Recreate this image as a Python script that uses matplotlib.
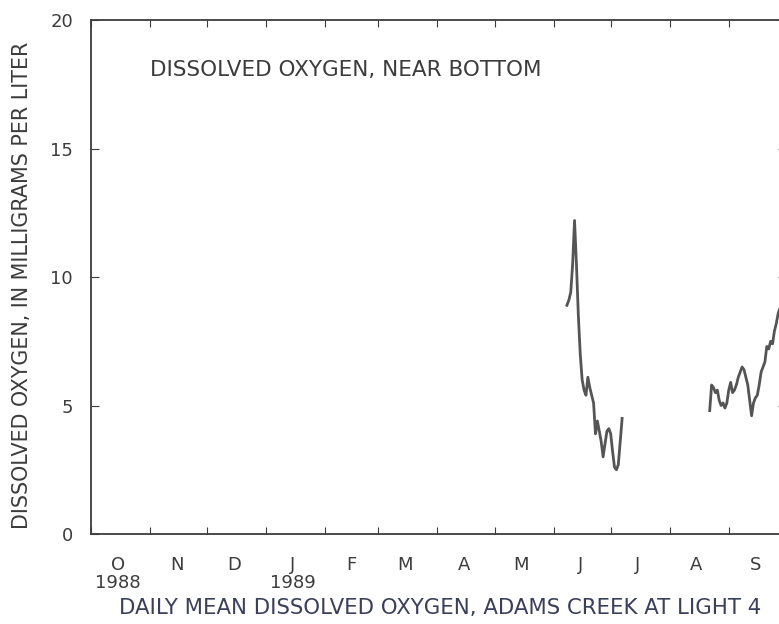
import numpy as np
import pandas as pd
import matplotlib
matplotlib.use("Agg")
import matplotlib.pyplot as plt

plt.rcParams['font.family'] = ['DejaVu Sans']

# Daily mean dissolved oxygen near bottom (mg/L), two periods of record
seg1_start = "1989-06-08"
seg1_values = [8.9, 9.1, 9.4, 10.5, 12.2, 10.5, 8.5, 7.0, 6.0, 5.6,
               5.4, 6.1, 5.7, 5.4, 5.1, 3.9, 4.4, 4.0, 3.6, 3.0,
               3.5, 4.0, 4.1, 3.9, 3.2, 2.6, 2.5, 2.7, 3.6, 4.5]

seg2_start = "1989-08-22"
seg2_values = [4.8, 5.8, 5.7, 5.5, 5.6, 5.2, 5.0, 5.1, 4.9, 5.1,
               5.6, 5.9, 5.5, 5.6, 5.8, 6.1, 6.3, 6.5, 6.4, 6.1,
               5.8, 5.2, 4.6, 5.1, 5.3, 5.4, 5.8, 6.3, 6.5, 6.7,
               7.3, 7.2, 7.5, 7.4, 7.9, 8.2, 8.6, 8.8, 9.1, 9.3]

month_labels = ["O\n1988", "N", "D", "J\n1989", "F", "M", "A", "M", "J", "J", "A", "S"]
y_ticks = [0, 5, 10, 15, 20]

ink = "#3c3c3c"

fig = plt.figure(figsize=(7.79, 6.24), dpi=100)
ax = fig.add_axes([0.1168, 0.1442, 0.892, 0.8237])

for start, vals in [(seg1_start, seg1_values), (seg2_start, seg2_values)]:
    dates = pd.date_range(start, periods=len(vals), freq="D")
    ax.plot(dates, vals, color="#555555", linewidth=2.0)

ax.set_xlim(pd.Timestamp("1988-10-01"), pd.Timestamp("1989-10-01"))
ax.set_ylim(0, 20)

# month boundaries as ticks, labels centred mid-month
month_starts = pd.date_range("1988-10-01", "1989-10-01", freq="MS")
mid_months = [m + pd.Timedelta(days=14) for m in month_starts[:-1]]
ax.set_xticks(month_starts)
ax.set_xticklabels([])
ax.set_xticks(mid_months, minor=True)
ax.set_xticklabels(month_labels, minor=True, linespacing=1.0)
ax.tick_params(axis="x", which="minor", length=0, pad=16, labelsize=13, colors=ink)
ax.tick_params(axis="x", which="major", direction="in", length=5, top=True, color=ink)

ax.set_yticks(y_ticks)
ax.tick_params(axis="y", direction="in", length=6, right=True, pad=13, labelsize=13,
               colors=ink)

for s in ax.spines.values():
    s.set_color(ink)
    s.set_linewidth(1.3)

fig.text(22 / 779, 0.543, "DISSOLVED OXYGEN, IN MILLIGRAMS PER LITER", rotation=90,
         ha="center", va="center", fontsize=14.9, color=ink)
fig.text(150 / 779, (624 - 70) / 624, "DISSOLVED OXYGEN, NEAR BOTTOM",
         va="center", fontsize=15.5, color=ink)
fig.text(440 / 779, (624 - 608) / 624, "DAILY MEAN DISSOLVED OXYGEN, ADAMS CREEK AT LIGHT 4",
         ha="center", va="center", fontsize=15.3, color="#3a3f5a")

fig.savefig("out.png", dpi=100)
